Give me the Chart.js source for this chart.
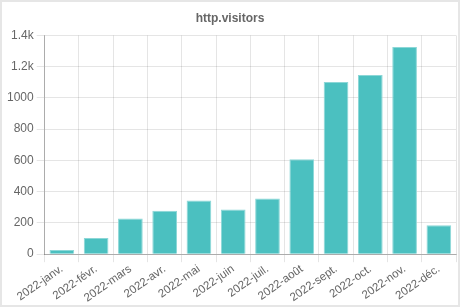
<!DOCTYPE html>
<html>
<head>
<meta charset="utf-8">
<script src="https://cdn.jsdelivr.net/npm/chart.js@4/dist/chart.umd.min.js"></script>
<style>
  html, body { margin: 0; padding: 0; background: #fff; }
  #wrap { width: 456px; height: 303px; border: 2px solid #e6e6e6; position: relative; }
</style>
</head>
<body>
<div id="wrap"><canvas id="visitorsChart"></canvas></div>
<script>
const months = ['2022-janv.', '2022-févr.', '2022-mars', '2022-avr.', '2022-mai', '2022-juin',
  '2022-juil.', '2022-août', '2022-sept.', '2022-oct.', '2022-nov.', '2022-déc.'];
const visitors = [27, 104, 228, 278, 344, 286, 357, 608, 1101, 1146, 1326, 185];
const yTicks = ['0', '200', '400', '600', '800', '1000', '1.2k', '1.4k'];

document.addEventListener('DOMContentLoaded', function () {
  const canvas = document.getElementById('visitorsChart');
  const ctx = canvas.getContext('2d');
  Chart.defaults.font.family = '"Liberation Sans", Arial, sans-serif';
  Chart.defaults.font.size = 12;
  Chart.defaults.color = '#666';
  new Chart(ctx, {
    type: 'bar',
    data: {
      labels: months,
      datasets: [{
        label: 'http.visitors',
        data: visitors,
        backgroundColor: 'rgba(75, 192, 192, 1)',
        borderColor: 'rgba(140, 215, 215, 1)',
        borderWidth: 1
      }]
    },
    options: {
      responsive: true,
      maintainAspectRatio: false,
      animation: false,
      layout: { padding: { left: 2, right: 2, top: 0, bottom: 0 } },
      plugins: {
        legend: { display: false },
        tooltip: { enabled: false },
        title: {
          display: true,
          text: 'http.visitors',
          color: '#666',
          font: { size: 12, weight: 'bold' },
          padding: { top: 9, bottom: 10 }
        }
      },
      scales: {
        x: {
          grid: { color: 'rgba(0,0,0,0.1)', tickLength: 8 },
          border: { color: 'rgba(0,0,0,0.25)' },
          ticks: { color: '#666', font: { size: 11.5 }, maxRotation: 35, minRotation: 35, padding: 0 }
        },
        y: {
          min: 0,
          max: 1400,
          grid: { color: 'rgba(0,0,0,0.1)', tickLength: 8 },
          border: { color: 'rgba(0,0,0,0.25)' },
          ticks: {
            stepSize: 200,
            color: '#666',
            padding: 3,
            callback: function (value) { return yTicks[Math.round(value / 200)]; }
          }
        }
      }
    }
  });
});
</script>
</body>
</html>
